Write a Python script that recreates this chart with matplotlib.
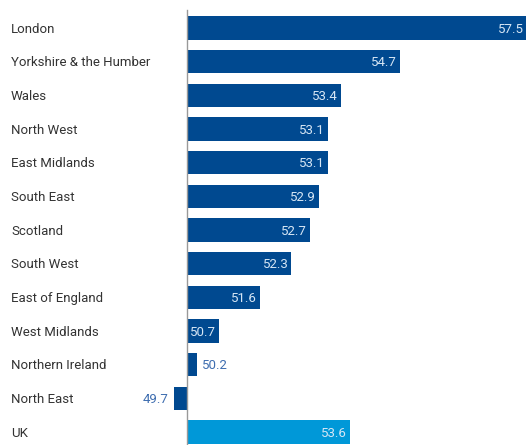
import matplotlib
matplotlib.use("Agg")
import matplotlib.pyplot as plt

regions = ["London", "Yorkshire & the Humber", "Wales", "North West", "East Midlands",
           "South East", "Scotland", "South West", "East of England", "West Midlands",
           "Northern Ireland", "North East", "UK"]
values = [57.5, 54.7, 53.4, 53.1, 53.1, 52.9, 52.7, 52.3, 51.6, 50.7, 50.2, 49.7, 53.6]
labels = ["57.5", "54.7", "53.4", "53.1", "53.1", "52.9", "52.7", "52.3", "51.6", "50.7", "50.2", "49.7", "53.6"]
baseline = 50.0

dark = "#004990"
light = "#0098d8"
plt.rcParams['font.family'] = ['Roboto', 'DejaVu Sans']

W, H = 528, 445
fig = plt.figure(figsize=(W / 100, H / 100), dpi=100)
ax = fig.add_axes([0, 0, 1, 1])
ppu = 45.2
x0 = baseline - 187.5 / ppu
x1 = baseline + (W - 187.5) / ppu
ax.set_xlim(x0, x1)
pitch = 33.67
ax.set_ylim((H - 28) / pitch, (0 - 28) / pitch)
for s in ax.spines.values():
    s.set_visible(False)
ax.set_xticks([]); ax.set_yticks([])

fs = 9.5
for i, (r, v, lab) in enumerate(zip(regions, values, labels)):
    col = light if r == "UK" else dark
    ax.barh(i, v - baseline, left=baseline, height=0.69, color=col, zorder=2)
    ax.text(x0 + 11 / ppu, i + 0.03, r, ha="left", va="center", fontsize=fs, color="#333333")
    diff = v - baseline
    if abs(diff) >= 0.6:
        ax.text(v - 3 / ppu, i + 0.03, lab, ha="right", va="center", fontsize=fs, color="#d6e6f5", zorder=3)
    elif diff >= 0:
        ax.text(v + 5 / ppu, i + 0.03, lab, ha="left", va="center", fontsize=fs, color="#3f6eb0", zorder=3)
    else:
        ax.text(v - 5 / ppu, i + 0.03, lab, ha="right", va="center", fontsize=fs, color="#3f6eb0", zorder=3)

ax.plot([baseline, baseline], [(10 - 28) / pitch, (H - 28) / pitch], color="#999999", lw=1, zorder=4)

fig.savefig("out.png", dpi=100)
